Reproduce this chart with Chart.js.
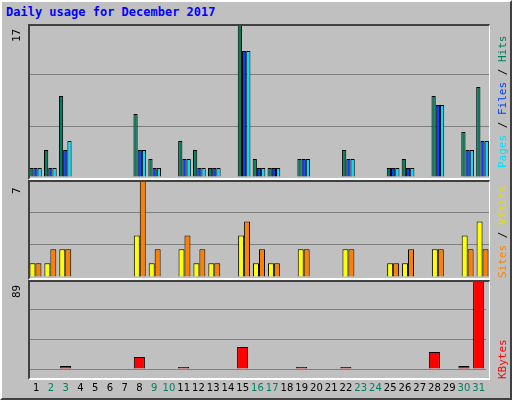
<!DOCTYPE html>
<html><head><meta charset="utf-8">
<script src="https://cdn.jsdelivr.net/npm/chart.js@4"></script>
<style>
body{margin:0;background:#fff}
#wrap{position:relative;width:508px;height:396px;background:#C0C0C0;border:2px solid;border-color:#fff #404040 #404040 #fff;font-family:"DejaVu Sans Mono",monospace}
.panel{position:absolute;left:26px;width:462px;border-top:2px solid #404040;border-left:2px solid #404040;border-right:1px solid #fff;border-bottom:2px solid #fff;box-sizing:border-box;pointer-events:none}
canvas{position:absolute}
.vt{position:absolute;transform-origin:left top;transform:rotate(-90deg);white-space:nowrap;font-size:11px}
#title{position:absolute;left:4px;top:3px;color:#0000FF;font-weight:bold;font-size:12px}
</style></head>
<body><div id="wrap">
<div id="title">Daily usage for December 2017</div>
<canvas id="c1" style="left:26px;top:22px;width:462px;height:153px"></canvas>
<canvas id="c2" style="left:26px;top:178px;width:462px;height:97px"></canvas>
<canvas id="c3" style="left:26px;top:278px;width:462px;height:119px"></canvas>
<div class="panel" style="top:22px;height:156px"></div>
<div class="panel" style="top:178px;height:100px"></div>
<div class="panel" style="top:278px;height:100px"></div>
<div class="vt" id="m1" style="left:8px;top:40px"></div>
<div class="vt" id="m2" style="left:8px;top:192px"></div>
<div class="vt" id="m3" style="left:8px;top:296px"></div>
<div class="vt" style="left:494px;top:166px"><span style="color:#00E0FF">Pages</span><span style="color:#000"> / </span><span style="color:#0040FF">Files</span><span style="color:#000"> / </span><span style="color:#00805C">Hits</span></div>
<div class="vt" style="left:494px;top:276px"><span style="color:#FF8000">Sites</span><span style="color:#000"> / </span><span style="color:#E0E000">Visits</span></div>
<div class="vt" style="left:494px;top:377px"><span style="color:#FF0000">KBytes</span></div>
</div>
<script>
const days = Array.from({length:31}, (_, i) => String(i + 1));
const weekend = ['2','3','9','10','16','17','23','24','30','31'];
const maxLabels = ['17', '7', '89'];

// one entry per day, day 1 first
const hits   = [1,3,9,0,0,0,0,7,2,0,4,3,1,0,17,2,1,0,2,0,0,3,0,0,1,2,0,9,0,5,10];
const files  = [1,1,3,0,0,0,0,3,1,0,2,1,1,0,14,1,1,0,2,0,0,2,0,0,1,1,0,8,0,3,4];
const pages  = [1,1,4,0,0,0,0,3,1,0,2,1,1,0,14,1,1,0,2,0,0,2,0,0,1,1,0,8,0,3,4];
const visits = [1,1,2,0,0,0,0,3,1,0,2,1,1,0,3,1,1,0,2,0,0,2,0,0,1,1,0,2,0,3,4];
const sites  = [1,2,2,0,0,0,0,7,2,0,3,2,1,0,4,2,1,0,2,0,0,2,0,0,1,2,0,2,0,2,2];
const kbytes = [0.6,0.6,3,0,0,0,0,12,0.6,0,2,0.6,0.6,0,22,0.6,0.6,0,2,0,0,2,0,0,0.6,0.6,0,17,0,3,89];

document.getElementById('m1').textContent = maxLabels[0];
document.getElementById('m2').textContent = maxLabels[1];
document.getElementById('m3').textContent = maxLabels[2];

function ds(data, color, cat){
  return {data, backgroundColor:color, borderColor:'#000', borderWidth:1,
          barPercentage:1, categoryPercentage:cat};
}
function make(id, sets, max, showX){
  new Chart(document.getElementById(id), {
    type:'bar',
    data:{labels:days, datasets:sets},
    options:{
      responsive:false, animation:false, maintainAspectRatio:false,
      layout:{padding:0},
      plugins:{legend:{display:false}, tooltip:{enabled:false}},
      scales:{
        x:{display:showX, grid:{display:false}, border:{display:false},
           ticks:{autoSkip:false, maxRotation:0, padding:5,
                  font:{family:'DejaVu Sans', size:10},
                  color:c => weekend.includes(days[c.index]) ? '#008060' : '#000'}},
        y:{min:0, max:max, afterFit:s => { s.width = 0; },
           ticks:{display:false, stepSize:max/3}, border:{display:false},
           grid:{color:'#808080', drawTicks:false}}
      }
    }
  });
}
make('c1', [ds(hits,'#00805C',0.85), ds(files,'#0040FF',0.85), ds(pages,'#00E0FF',0.85)], 17, false);
make('c2', [ds(visits,'#FFFF00',0.8), ds(sites,'#FF8000',0.8)], 7, false);
make('c3', [ds(kbytes,'#FF0000',0.75)], 89, true);
</script></body></html>
